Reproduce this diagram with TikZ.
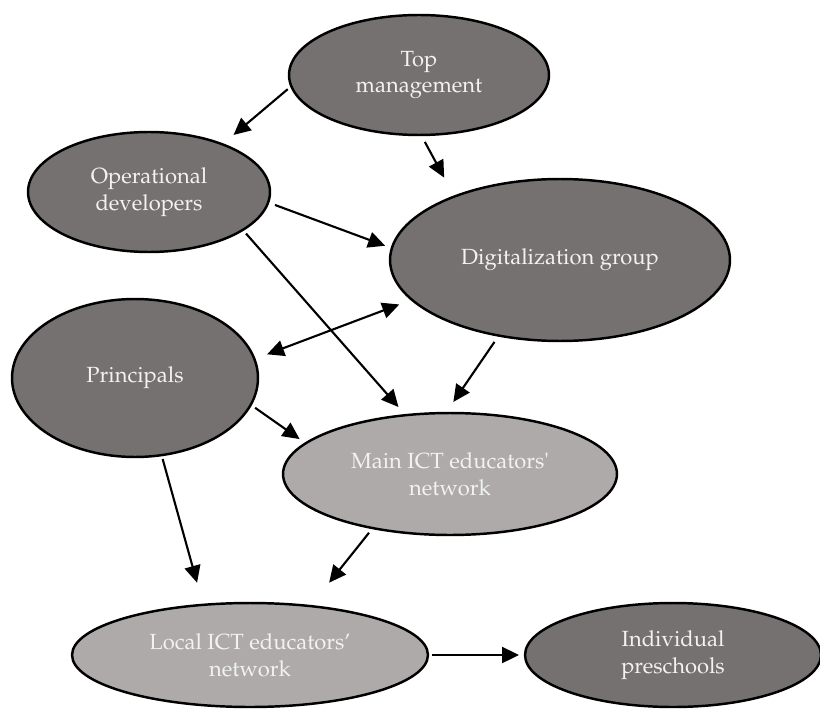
\documentclass[tikz,border=0pt]{standalone}
\usepackage[T1]{fontenc}
\usepackage{mathpazo}
\usepackage{tikz}
\usetikzlibrary{shapes.geometric}
\usetikzlibrary{arrows.meta}
\usepackage{xcolor}
\definecolor{boxdark}{HTML}{767171}
\definecolor{boxlight}{HTML}{AEAAAA}
\definecolor{boxtext}{HTML}{F2F2F2}

\begin{document}
\begin{tikzpicture}[x = 0.02cm, y = -0.02cm, >={Triangle[length=0.34cm,width=0.32cm]}]
    \tikzstyle{group}=[draw=black,ellipse,line width = 1.4pt,fill=boxdark,text=boxtext,inner sep=0pt,outer sep=0pt,align=center,font=\fontsize{12.5}{15.3}\selectfont]
    \tikzstyle{network}=[group,fill=boxlight]
    \tikzstyle{link}=[draw,line width = 1.2pt,->,black]
    \useasboundingbox (0,0) rectangle (820,709);
    \node[group,minimum width=5.2cm,minimum height=2.4cm] (top) at (419,75) {Top\\management};
    \node[group,minimum width=4.84cm,minimum height=2.4cm] (oper) at (149,192) {Operational\\developers};
    \node[group,minimum width=6.8cm,minimum height=3.24cm] (digi) at (560,260) {Digitalization group};
    \node[group,minimum width=4.92cm,minimum height=3.16cm] (princ) at (135,378) {Principals};
    \node[network,minimum width=6.68cm,minimum height=2.44cm] (main) at (450,474) {Main ICT educators\textquotesingle\\network};
    \node[network,minimum width=7.12cm,minimum height=2.08cm] (local) at (250,655) {Local ICT educators'\\network};
    \node[group,minimum width=5.92cm,minimum height=2.08cm] (indiv) at (673,655) {Individual\\preschools};
    \draw[link,shorten <=0.094cm,shorten >=0.29cm] (top.185.4) -- (oper.33.3);
    \draw[link,shorten <=0.157cm,shorten >=0.43cm] (top.272.4) -- (digi.149.7);
    \draw[link,shorten <=0.146cm,shorten >=0.143cm] (oper.355) -- (digi.176.1);
    \draw[link,shorten <=0.098cm,shorten >=0.218cm] (oper.338.5) -- (main.127.4);
    \draw[link,<->,shorten <=0.271cm,shorten >=0.269cm] (princ.9.2) -- (digi.195.3);
    \draw[link,shorten <=0.154cm,shorten >=0.269cm] (digi.231.3) -- (main.94.4);
    \draw[link,shorten <=0.107cm,shorten >=0.148cm] (princ.347) -- (main.168.5);
    \draw[link,shorten <=0.081cm,shorten >=0.46cm] (princ.289.3) -- (local.133.5);
    \draw[link,shorten <=0.121cm,shorten >=0.6cm] (main.215.5) -- (local.39.2);
    \draw[link,shorten <=0.08cm,shorten >=0.12cm] (local.east) -- (indiv.west);
\end{tikzpicture}
\end{document}
